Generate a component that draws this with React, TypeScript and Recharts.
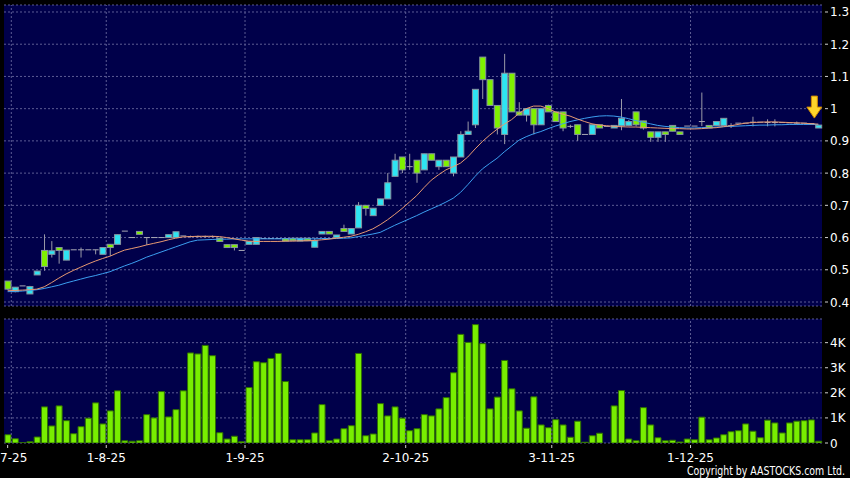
import { ComposedChart, Bar, Line, XAxis, YAxis, CartesianGrid, ReferenceLine, ReferenceDot } from "recharts";

// daily sessions (price in HK$, volume in shares)
const open = [
  0.465, 0.432, 0.45, 0.425, 0.484, 0.56, 0.548, 0.569, 0.53, 0.562, 0.562, 0.562, 0.562, 0.548, 0.579, 0.579,
  0.62, 0.6, 0.619, 0.6, 0.6, 0.6, 0.6, 0.6, 0.605, 0.603, 0.603, 0.603, 0.603, 0.598, 0.578, 0.578,
  0.56, 0.579, 0.579, 0.597, 0.597, 0.597, 0.597, 0.598, 0.589, 0.598, 0.57, 0.611, 0.619, 0.6, 0.628, 0.611,
  0.63, 0.7, 0.668, 0.7, 0.72, 0.79, 0.85, 0.82, 0.84, 0.81, 0.86, 0.82, 0.84, 0.8, 0.85, 0.92,
  0.95, 1.16, 1.09, 1.01, 0.92, 1.11, 0.99, 0.98, 1.0, 0.95, 1.01, 0.99, 0.99, 0.945, 0.95, 0.92,
  0.92, 0.95, 0.945, 0.94, 0.947, 0.948, 0.99, 0.962, 0.928, 0.911, 0.928, 0.948, 0.928, 0.946, 0.946, 0.96,
  0.948, 0.948, 0.948, 0.947, 0.955, 0.955, 0.958, 0.958, 0.957, 0.957, 0.957, 0.956, 0.955, 0.955, 0.954, 0.94,
];
const high = [
  0.465, 0.446, 0.45, 0.45, 0.496, 0.61, 0.589, 0.569, 0.561, 0.562, 0.569, 0.562, 0.562, 0.569, 0.579, 0.609,
  0.62, 0.6, 0.619, 0.6, 0.6, 0.6, 0.609, 0.618, 0.605, 0.606, 0.606, 0.606, 0.606, 0.598, 0.578, 0.578,
  0.56, 0.588, 0.6, 0.597, 0.597, 0.597, 0.597, 0.598, 0.598, 0.598, 0.6, 0.619, 0.619, 0.608, 0.64, 0.628,
  0.71, 0.7, 0.691, 0.72, 0.8, 0.86, 0.85, 0.86, 0.84, 0.86, 0.86, 0.84, 0.84, 0.85, 0.93, 0.96,
  1.06, 1.16, 1.09, 1.01, 1.17, 1.11, 1.02, 1.0, 1.0, 1.0, 1.012, 0.99, 0.99, 0.95, 0.95, 0.92,
  0.95, 0.95, 0.945, 0.948, 1.03, 0.965, 0.99, 0.962, 0.928, 0.928, 0.928, 0.948, 0.928, 0.946, 0.946, 1.05,
  0.948, 0.96, 0.97, 0.955, 0.955, 0.955, 0.975, 0.958, 0.967, 0.967, 0.957, 0.956, 0.96, 0.955, 0.954, 0.949,
];
const low = [
  0.437, 0.43, 0.45, 0.425, 0.484, 0.497, 0.538, 0.519, 0.53, 0.562, 0.538, 0.562, 0.548, 0.548, 0.543, 0.579,
  0.62, 0.6, 0.61, 0.577, 0.6, 0.6, 0.6, 0.6, 0.605, 0.6, 0.6, 0.6, 0.6, 0.588, 0.569, 0.56,
  0.56, 0.579, 0.579, 0.597, 0.597, 0.597, 0.589, 0.59, 0.589, 0.59, 0.57, 0.611, 0.611, 0.6, 0.619, 0.611,
  0.63, 0.668, 0.668, 0.7, 0.72, 0.79, 0.8, 0.81, 0.77, 0.81, 0.84, 0.81, 0.82, 0.79, 0.85, 0.92,
  0.94, 1.03, 1.01, 0.92, 0.89, 0.99, 0.98, 0.96, 0.92, 0.95, 0.99, 0.96, 0.93, 0.94, 0.9, 0.92,
  0.92, 0.94, 0.945, 0.94, 0.933, 0.945, 0.945, 0.935, 0.897, 0.897, 0.897, 0.93, 0.92, 0.946, 0.946, 0.946,
  0.94, 0.948, 0.948, 0.94, 0.955, 0.955, 0.945, 0.958, 0.945, 0.945, 0.957, 0.956, 0.95, 0.955, 0.954, 0.94,
];
const close = [
  0.44, 0.446, 0.45, 0.448, 0.496, 0.51, 0.559, 0.56, 0.561, 0.562, 0.562, 0.562, 0.562, 0.569, 0.569, 0.609,
  0.62, 0.6, 0.61, 0.6, 0.6, 0.6, 0.609, 0.618, 0.605, 0.603, 0.603, 0.603, 0.603, 0.588, 0.569, 0.569,
  0.56, 0.588, 0.6, 0.597, 0.597, 0.597, 0.589, 0.59, 0.598, 0.59, 0.59, 0.619, 0.611, 0.608, 0.619, 0.628,
  0.7, 0.69, 0.691, 0.72, 0.77, 0.84, 0.81, 0.82, 0.8, 0.86, 0.84, 0.84, 0.82, 0.85, 0.92, 0.93,
  1.06, 1.09, 1.01, 0.94, 1.11, 0.99, 0.98, 1.0, 0.95, 1.0, 0.99, 0.96, 0.94, 0.945, 0.92, 0.92,
  0.95, 0.94, 0.945, 0.948, 0.97, 0.96, 0.95, 0.94, 0.911, 0.928, 0.92, 0.93, 0.92, 0.946, 0.946, 0.96,
  0.94, 0.96, 0.97, 0.947, 0.955, 0.955, 0.958, 0.958, 0.957, 0.957, 0.957, 0.956, 0.955, 0.955, 0.954, 0.949,
];
const ma10 = [
  0.435, 0.436, 0.437, 0.438, 0.44, 0.447, 0.46, 0.474, 0.487, 0.498, 0.508, 0.518, 0.527, 0.535, 0.542, 0.552,
  0.561, 0.566, 0.571, 0.577, 0.582, 0.587, 0.593, 0.598, 0.602, 0.603, 0.604, 0.604, 0.604, 0.603, 0.6, 0.596,
  0.592, 0.589, 0.588, 0.588, 0.588, 0.588, 0.589, 0.589, 0.59, 0.59, 0.591, 0.593, 0.595, 0.598, 0.601, 0.604,
  0.61, 0.618, 0.627, 0.64, 0.655, 0.672, 0.69, 0.71, 0.73, 0.755, 0.778, 0.795, 0.81, 0.82, 0.831, 0.85,
  0.875, 0.898, 0.918, 0.936, 0.952, 0.966, 0.985, 1.0, 1.008, 1.008, 1.0, 0.99, 0.983, 0.977, 0.968, 0.96,
  0.953, 0.949, 0.947, 0.945, 0.944, 0.943, 0.943, 0.942, 0.941, 0.94, 0.939, 0.938, 0.938, 0.937, 0.937, 0.938,
  0.94, 0.941, 0.944, 0.947, 0.951, 0.955, 0.957, 0.958, 0.959, 0.959, 0.958, 0.957, 0.956, 0.955, 0.953, 0.952,
];
const ma20 = [
  0.432, 0.433, 0.434, 0.436, 0.438, 0.442, 0.447, 0.452, 0.459, 0.465, 0.471, 0.477, 0.482, 0.488, 0.494, 0.503,
  0.512, 0.52, 0.529, 0.539, 0.547, 0.555, 0.563, 0.571, 0.579, 0.587, 0.592, 0.593, 0.594, 0.595, 0.595, 0.596,
  0.596, 0.596, 0.596, 0.596, 0.596, 0.596, 0.596, 0.596, 0.596, 0.596, 0.596, 0.597, 0.597, 0.597, 0.598, 0.599,
  0.603, 0.607, 0.611, 0.616, 0.627, 0.638, 0.648, 0.658, 0.668, 0.679, 0.689, 0.699, 0.71, 0.722, 0.74, 0.764,
  0.79, 0.813, 0.83, 0.846, 0.866, 0.884, 0.902, 0.913, 0.922, 0.929, 0.938, 0.946, 0.953, 0.96, 0.965, 0.97,
  0.974, 0.977, 0.978, 0.977, 0.974, 0.969, 0.963, 0.958, 0.953, 0.948, 0.945, 0.943, 0.941, 0.94, 0.94, 0.941,
  0.942, 0.943, 0.944, 0.945, 0.946, 0.947, 0.948, 0.949, 0.949, 0.95, 0.95, 0.951, 0.951, 0.951, 0.951, 0.951,
];
const volume = [
  330, 170, 10, 50, 240, 1440, 680, 1480, 890, 370, 650, 990, 1600, 760, 1280, 2080,
  90, 70, 90, 1130, 1000, 2050, 1040, 1330, 2080, 3590, 3550, 3890, 3480, 410, 160, 270,
  50, 2210, 3240, 3200, 3370, 3570, 2450, 130, 130, 130, 400, 1530, 90, 160, 570, 690,
  3570, 290, 360, 1570, 1080, 1440, 990, 490, 570, 1130, 1080, 1360, 1810, 2800, 4330, 4010,
  4720, 3960, 1360, 1830, 3290, 2160, 1280, 590, 1840, 720, 610, 930, 720, 230, 870, 30,
  290, 390, 0, 1480, 2090, 160, 90, 1410, 720, 210, 90, 110, 40, 160, 130, 1030,
  130, 200, 330, 450, 490, 760, 470, 210, 910, 800, 400, 800, 870, 890, 920, 70,
];

// first session of each month (grid lines) and the date labels under the volume panel
const monthStart = [1, 14, 33, 55, 75, 94];
const labelAt = [0, 14, 33, 55, 75, 94];
const monthLabel = ["2-7-25", "1-8-25", "1-9-25", "2-10-25", "3-11-25", "1-12-25"];
const priceTicks = [0.4, 0.5, 0.6, 0.7, 0.8, 0.9, 1, 1.1, 1.2, 1.3];
const volTicks = [0, 1000, 2000, 3000, 4000];

const rows = open.map((o, i) => ({
  i, o, h: high[i], l: low[i], c: close[i], ma10: ma10[i], ma20: ma20[i], vol: volume[i],
}));
const last = rows.length - 1;

const FONT = "DejaVu Sans";
const PANEL = "#00004a";
const GRID = "#5c5c94";
const UP = "#2ee4f2";
const DOWN = "#7ff000";

const Candle = (p: any) => {
  const { x, width, payload } = p;
  const y0 = Math.min(p.y, p.y + p.height);
  const hh = Math.abs(p.height);
  const { o, h, l, c } = payload;
  const span = h - l;
  const py = (v: number) => (span > 0 ? y0 + ((h - v) / span) * hh : y0);
  const cx = x + width / 2;
  const top = py(Math.max(o, c));
  const bot = py(Math.min(o, c));
  return (
    <g>
      {span > 0 && <line x1={cx} x2={cx} y1={y0} y2={y0 + hh} stroke="#9a9aa8" strokeWidth={1} />}
      {o === c ? (
        <line x1={x} x2={x + width} y1={top} y2={top} stroke="#a8a8b4" strokeWidth={1} />
      ) : (
        <rect x={x} y={top} width={width} height={Math.max(bot - top, 1)}
          fill={c > o ? UP : DOWN} stroke="#8794a0" strokeWidth={1} />
      )}
    </g>
  );
};

const Arrow = (p: any) => {
  const cx = p.cx - 4;
  const t = p.cy - 7;
  const pts = [
    [cx, t], [cx - 7.5, t - 11], [cx - 3, t - 11], [cx - 3, t - 22],
    [cx + 3, t - 22], [cx + 3, t - 11], [cx + 7.5, t - 11],
  ].map(q => q.join(",")).join(" ");
  return <polygon points={pts} fill="#ffd52a" stroke="#d08a00" strokeWidth={1} />;
};

const YTick = ({ x, y, payload, fmt }: any) => (
  <g>
    <line x1={x + 3} x2={x + 6} y1={y} y2={y} stroke="#cfcfcf" />
    <text x={x + 8} y={y + 4.5} fill="#ffffff" fontSize={12} fontFamily={FONT}>{fmt(payload.value)}</text>
  </g>
);

const XTick = ({ x, y, payload }: any) => {
  // month labels sit on the band edge, the first one on its session
  const tx = payload.value === labelAt[0] ? x : x - (payload.offset ?? 3.65);
  const label = monthLabel[labelAt.indexOf(payload.value)];
  return (
    <g>
      <line x1={tx} x2={tx} y1={y + 2} y2={y + 5} stroke="#cfcfcf" />
      <text x={tx} y={y + 19} textAnchor="middle" fill="#ffffff" fontSize={12} fontFamily={FONT}>{label}</text>
    </g>
  );
};

const monthLines = monthStart.map(m => (
  <ReferenceLine key={m} x={m} position="start" stroke={GRID} strokeDasharray="2 2" />
));

export default function App() {
  return (
    <div style={{ position: "fixed", left: 0, top: 0, width: 850, height: 478, background: "#000", overflow: "hidden" }}>
      <div style={{ position: "absolute", left: 0, top: 0 }}>
        <ComposedChart width={850} height={310} data={rows} margin={{ top: 5, right: 0, bottom: 4, left: 4 }}
          barCategoryGap={0}>
          <CartesianGrid vertical={false} stroke={GRID} strokeDasharray="2 2" fill={PANEL} />
          <XAxis dataKey="i" type="category" hide />
          <YAxis orientation="right" width={28} domain={[0.3876, 1.3217]} ticks={priceTicks} interval={0}
            allowDataOverflow axisLine={false} tickLine={false} tickSize={0} tickMargin={0}
            tick={<YTick fmt={(v: number) => (v === 1 ? "1" : v.toFixed(1))} />} />
          {monthLines}
          <Bar dataKey={(d: any) => [d.l, d.h]} barSize={6} shape={Candle} isAnimationActive={false} />
          <Line dataKey="ma20" stroke="#3c9ff0" strokeWidth={1} dot={false} isAnimationActive={false} />
          <Line dataKey="ma10" stroke="#e89a72" strokeWidth={1} dot={false} isAnimationActive={false} />
          <ReferenceDot x={last} y={high[last]} shape={Arrow} />
        </ComposedChart>
      </div>
      <div style={{ position: "absolute", left: 0, top: 310 }}>
        <ComposedChart width={850} height={168} data={rows} margin={{ top: 9, right: 0, bottom: 0, left: 4 }}
          barCategoryGap={0}>
          <CartesianGrid vertical={false} stroke={GRID} strokeDasharray="2 2" fill={PANEL} />
          <XAxis dataKey="i" type="category" height={35} ticks={labelAt} interval={0}
            axisLine={false} tickLine={false} tickSize={0} tickMargin={0} tick={<XTick />} />
          <YAxis orientation="right" width={28} domain={[0, 4943]} ticks={volTicks} interval={0} allowDataOverflow
            axisLine={false} tickLine={false} tickSize={0} tickMargin={0}
            tick={<YTick fmt={(v: number) => (v === 0 ? "0" : `${v / 1000}K`)} />} />
          {monthLines}
          <Bar dataKey="vol" barSize={6} fill="#78ee00" stroke="#2f7000" strokeWidth={1} isAnimationActive={false} />
        </ComposedChart>
      </div>
      <svg width={850} height={478} style={{ position: "absolute", left: 0, top: 0, pointerEvents: "none" }}>
        <text x={845} y={474.5} textAnchor="end" fill="#ffffff" fontSize={11.5}
          fontFamily="DejaVu Sans Condensed, DejaVu Sans" textLength={158} lengthAdjust="spacingAndGlyphs">
          Copyright by AASTOCKS.com Ltd.
        </text>
      </svg>
    </div>
  );
}
